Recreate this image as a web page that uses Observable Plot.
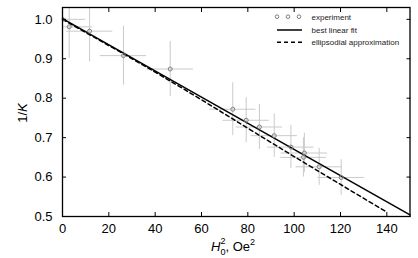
<!DOCTYPE html>
<html><head><meta charset="utf-8">
<script src="https://cdn.jsdelivr.net/npm/d3@7"></script>
<script src="https://cdn.jsdelivr.net/npm/@observablehq/plot@0.6"></script>
<style>
body{margin:0;background:#fff;}
#wrap{position:relative;width:418px;height:258px;}
#wrap svg{position:absolute;left:0;top:0;}
</style></head><body><div id="wrap"></div>
<script>
// experiment points: H0^2 (Oe^2) and 1/K with error bars
const expH2   = [0, 2.9, 11.7, 26.3, 46.5, 73.5, 79.3, 85.0, 91.4, 98.6, 104.4, 104.0, 110.8, 120.3];
const expInvK = [1.0, 0.981, 0.970, 0.908, 0.874, 0.772, 0.744, 0.727, 0.705, 0.676, 0.661, 0.650, 0.626, 0.599];
const errH2   = [10, 10, 10, 10, 10, 10, 10, 10, 10, 10, 10, 10, 10, 10];
const errInvK = [0.08, 0.08, 0.078, 0.075, 0.07, 0.067, 0.057, 0.057, 0.055, 0.055, 0.05, 0.05, 0.047, 0.045];
// best linear fit
const fitH2   = [0, 150];
const fitInvK = [1.002, 0.504];
// ellipsoidal approximation
const approxH2   = [0, 40, 70, 100, 140];
const approxInvK = [1.0, 0.866, 0.760, 0.652, 0.511];
// ticks
const xTicks = [0, 20, 40, 60, 80, 100, 120, 140];
const yTicks = [0.5, 0.6, 0.7, 0.8, 0.9, 1.0];
const legendLabels = ["experiment", "best linear fit", "ellipsodial approximation"];

const rows = expH2.map((h, i) => ({h, k: expInvK[i], eh: errH2[i], ek: errInvK[i]}));
const fit = fitH2.map((h, i) => ({h, k: fitInvK[i]}));
const approx = approxH2.map((h, i) => ({h, k: approxInvK[i]}));

const chart = Plot.plot({
  width: 418, height: 258,
  marginLeft: 62, marginRight: 8.5, marginTop: 7, marginBottom: 42,
  x: {domain: [0, 150]},
  y: {domain: [0.5, 1.03]},
  style: {fontFamily: "'Liberation Sans', Arial, sans-serif", fontSize: "13px", color: "black", background: "white"},
  marks: [
    Plot.ruleY(rows, {y: "k", x1: d => d.h - d.eh, x2: d => d.h + d.eh, stroke: "#cacaca", strokeWidth: 1, clip: true}),
    Plot.ruleX(rows, {x: "h", y1: d => d.k - d.ek, y2: d => d.k + d.ek, stroke: "#cacaca", strokeWidth: 1, clip: true}),
    Plot.line(approx, {x: "h", y: "k", curve: "natural", stroke: "black", strokeWidth: 1.5, strokeDasharray: "4,3"}),
    Plot.line(fit, {x: "h", y: "k", stroke: "black", strokeWidth: 1.5}),
    Plot.dot(rows, {x: "h", y: "k", r: 2, stroke: "#808080", fill: "none", strokeWidth: 1, clip: true}),
    Plot.axisX(xTicks, {anchor: "bottom", tickSize: 0, tickPadding: 7, label: null, tickFormat: d => String(d)}),
    Plot.axisX(xTicks, {anchor: "bottom", tickSize: -4, text: null, label: null}),
    Plot.axisX(xTicks, {anchor: "top", tickSize: -4, text: null, label: null}),
    Plot.axisY(yTicks, {anchor: "left", tickSize: 0, tickPadding: 10, tickFormat: ".1f", label: null}),
    Plot.axisY(yTicks, {anchor: "left", tickSize: -4, text: null, label: null}),
    Plot.axisY(yTicks, {anchor: "right", tickSize: -4, text: null, label: null}),
    Plot.frame({stroke: "black", strokeWidth: 1.3})
  ]
});
const wrap = document.getElementById("wrap");
wrap.appendChild(chart);

// overlay: legend + axis titles
const ns = "http://www.w3.org/2000/svg";
const ov = document.createElementNS(ns, "svg");
ov.setAttribute("width", 418); ov.setAttribute("height", 258);
ov.style.fontFamily = "'Liberation Sans', Arial, sans-serif";
ov.innerHTML = `
  <g font-size="8" fill="#222">
    <circle cx="277" cy="16.7" r="1.8" fill="none" stroke="#808080"/>
    <circle cx="288" cy="16.7" r="1.8" fill="none" stroke="#808080"/>
    <circle cx="299" cy="16.7" r="1.8" fill="none" stroke="#808080"/>
    <text x="311.5" y="19.5">${legendLabels[0]}</text>
    <line x1="277" x2="302" y1="30" y2="30" stroke="black" stroke-width="1.5"/>
    <text x="311.5" y="32.8">${legendLabels[1]}</text>
    <line x1="277" x2="302" y1="42.3" y2="42.3" stroke="black" stroke-width="1.5" stroke-dasharray="4,3"/>
    <text x="311.5" y="45.1">${legendLabels[2]}</text>
  </g>
  <text x="211" y="251" font-size="13" fill="black"><tspan font-style="italic">H</tspan><tspan font-size="9" dy="4">0</tspan><tspan font-size="9" dx="-5" dy="-11">2</tspan><tspan dy="7">, Oe</tspan><tspan font-size="9" dy="-6">2</tspan></text>
  <text transform="translate(27,113) rotate(-90)" text-anchor="middle" font-size="13" fill="black">1/<tspan font-style="italic">K</tspan></text>
`;
wrap.appendChild(ov);
</script>
</body></html>
